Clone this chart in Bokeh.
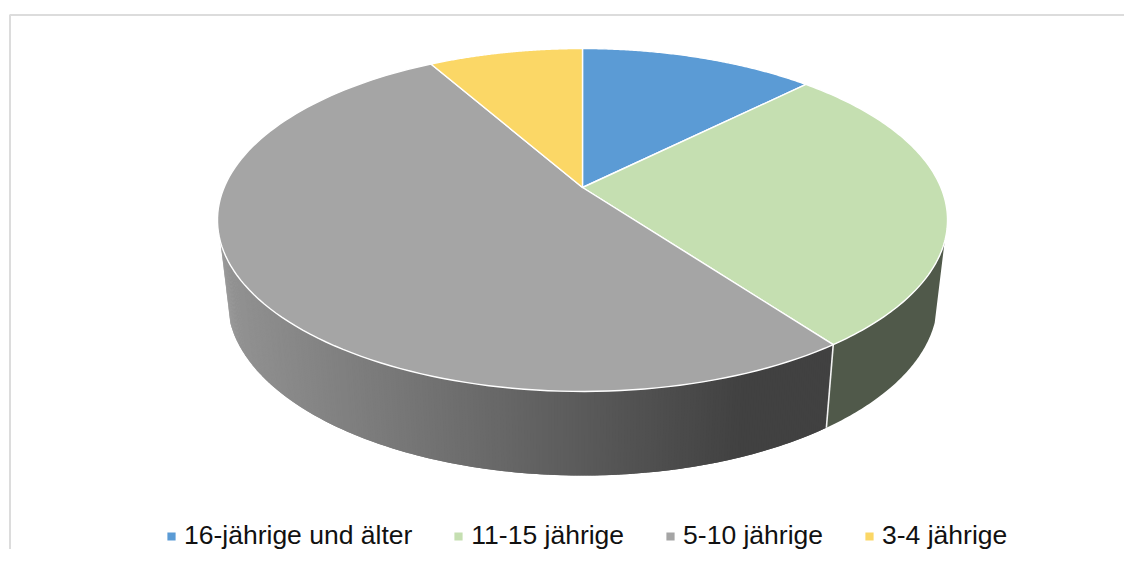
import numpy as np
from bokeh.plotting import figure
from bokeh.models import Range1d, Legend, LegendItem
from bokeh.embed import file_html
from bokeh.resources import INLINE

categories = ["16-jährige und älter", "11-15 jährige", "5-10 jährige", "3-4 jährige"]
shares = [12.5, 27.4, 51.9, 8.2]
top_colors = ["#5B9BD5", "#C5DFB1", "#A5A5A5", "#FBD766"]

# perspective view of the disc
CX = 582.0
K = 0.1895
TOP = dict(a=358.4, b=165.3, y=187.0)
LOW = dict(a=348.6, b=168.6, y=267.0)
SIDE_START, SIDE_END = 107.9, 252.1   # visible part of the rim, degrees clockwise from 12 o'clock
SIDE_GREEN = "#50594A"
GRAD_L, GRAD_R = 146.0, 65.0          # grey rim shading, left to right
GRAD_X0, GRAD_X1 = 227.0, 745.0


def project(deg, f):
    t = np.radians(np.asarray(deg, dtype=float))
    u, v = np.sin(t), np.cos(t)
    w = 1 + K * v
    return CX + f["a"] * u / w, f["y"] - f["b"] * v / w


p = figure(width=1124, height=549, output_backend="svg", toolbar_location=None,
           x_range=Range1d(0, 1124), y_range=Range1d(549, 0),
           min_border=0, outline_line_color=None, background_fill_color="white")
p.axis.visible = False
p.grid.visible = False

# chart frame (runs off the right and the bottom of the page)
p.line([9.5, 9.5, 1124], [549, 14.5, 14.5], line_color="#DCDCDC", line_width=2)

edges = np.concatenate([[0], np.cumsum(shares)]) * 3.6

# rim: green part
g_end = edges[2]
ts = np.linspace(SIDE_START, g_end, 60)
x1, y1 = project(ts, TOP)
x2, y2 = project(ts[::-1], LOW)
p.patch(np.r_[x1, x2], np.r_[y1, y2], fill_color=SIDE_GREEN, line_color=None)

# rim: grey part, shaded strip by strip
ts = np.arange(SIDE_END, g_end, -0.4)
ts = np.r_[ts, g_end]
for i in range(len(ts) - 1):
    a = ts[i]
    b = ts[min(i + 2, len(ts) - 1)]
    seg = np.array([a, b])
    xa, ya = project(seg, TOP)
    xb, yb = project(seg[::-1], LOW)
    f = np.clip((xa.mean() - GRAD_X0) / (GRAD_X1 - GRAD_X0), 0, 1)
    g = int(round(GRAD_L + (GRAD_R - GRAD_L) * f))
    col = f"#{g:02x}{g:02x}{g:02x}"
    p.patch(np.r_[xa, xb], np.r_[ya, yb], fill_color=col, line_color=None)

# white edge between the two rim parts
xs, ys = project([g_end], TOP)
xl, yl = project([g_end], LOW)
p.line([xs[0], xl[0]], [ys[0], yl[0]], line_color="#F2F2F2", line_width=1.6)

# top of the disc
items = []
for i, name in enumerate(categories):
    ts = np.linspace(edges[i], edges[i + 1], 120)
    x, y = project(ts, TOP)
    r = p.patch(np.r_[CX, x], np.r_[TOP["y"], y], fill_color=top_colors[i],
                line_color="white", line_width=1.4, line_join="round")
    items.append(LegendItem(label=name, renderers=[r]))

legend = Legend(items=items, orientation="horizontal", location=(165, -2),
                glyph_width=12, glyph_height=12, label_standoff=7, spacing=40,
                padding=0, margin=0, border_line_color=None, background_fill_alpha=0,
                label_text_font="Liberation Sans", label_text_font_size="26.5px",
                label_text_color="#111111", label_height=24)
p.add_layout(legend, "center")

open("out.html", "w").write(file_html(p, INLINE))
